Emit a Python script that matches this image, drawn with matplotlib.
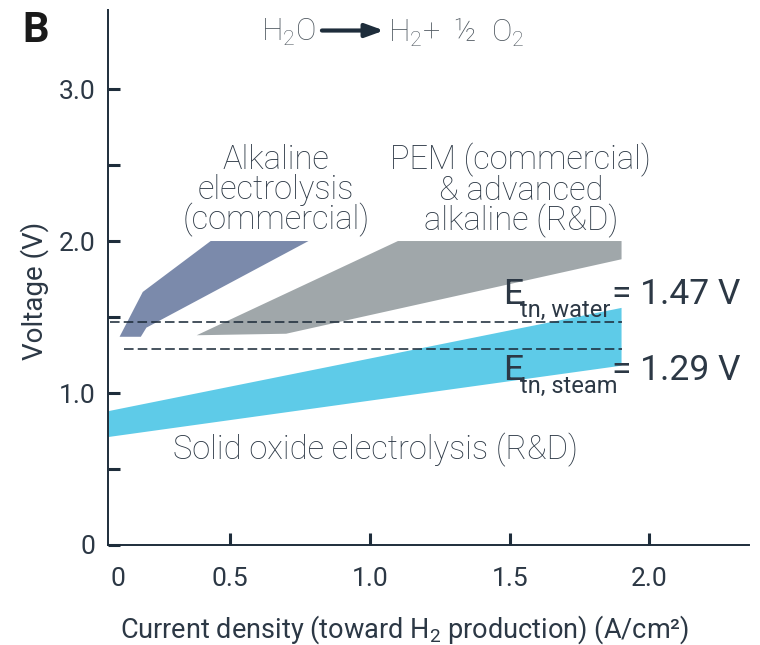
import matplotlib
matplotlib.use("Agg")
import matplotlib.pyplot as plt
from matplotlib.patches import Polygon

plt.rcParams["font.family"] = ["Roboto", "DejaVu Sans"]
plt.rcParams["mathtext.fontset"] = "custom"
plt.rcParams["mathtext.rm"] = "Roboto"
plt.rcParams["mathtext.default"] = "regular"

# Operating windows (current density in A/cm^2, cell voltage in V)
alkaline_j = [0.104, 0.187, 0.43, 0.78, 0.20, 0.18]
alkaline_v = [1.37, 1.665, 2.0, 2.0, 1.43, 1.37]

pem_j = [0.38, 0.70, 1.90, 1.90, 1.10]
pem_v = [1.38, 1.39, 1.88, 2.0, 2.0]

soec_j = [0.062, 0.062, 1.90, 1.90]
soec_v = [0.71, 0.88, 1.56, 1.18]

# Thermoneutral voltages
e_tn_water = 1.47
e_tn_steam = 1.29
water_span = [0.07, 1.90]
steam_span = [0.12, 1.90]

x_ticks = [0.5, 1.0, 1.5, 2.0]
x_tick_labels = ["0.5", "1.0", "1.5", "2.0"]
y_ticks = [0, 0.5, 1.0, 1.5, 2.0, 2.5, 3.0]
y_tick_labels = ["0", "", "1.0", "", "2.0", "", "3.0"]

navy = "#1e2d3b"
text_col = "#2c3845"
light_col = "#4f5860"
c_alk = "#7b8aab"
c_pem = "#a0a7aa"
c_soec = "#5ecbe8"

fig = plt.figure(figsize=(7.6, 6.45), dpi=100)
ax = fig.add_axes([108 / 760, 100 / 645, 641 / 760, 535 / 645])
ax.set_xlim(0.0626, 2.356)
ax.set_ylim(0, 3.52)

for spine in ("top", "right"):
    ax.spines[spine].set_visible(False)
for spine in ("left", "bottom"):
    ax.spines[spine].set_color(navy)
    ax.spines[spine].set_linewidth(1.4)

ax.add_patch(Polygon(list(zip(soec_j, soec_v)), closed=True, fc=c_soec, ec="none", zorder=2))
ax.add_patch(Polygon(list(zip(pem_j, pem_v)), closed=True, fc=c_pem, ec="none", zorder=2))
ax.add_patch(Polygon(list(zip(alkaline_j, alkaline_v)), closed=True, fc=c_alk, ec="none", zorder=2))

ax.plot(water_span, [e_tn_water] * 2, ls=(0, (6, 2.6)), color=navy, lw=1.15, zorder=3)
ax.plot(steam_span, [e_tn_steam] * 2, ls=(0, (6, 2.6)), color=navy, lw=1.15, zorder=3)

ax.set_xticks(x_ticks, labels=x_tick_labels)
ax.set_xticks([0.098], labels=["0"], minor=True)
ax.set_yticks(y_ticks, labels=y_tick_labels)
ax.tick_params(axis="both", which="major", direction="in", length=8.5, width=2.2,
               color=navy, labelsize=19, labelcolor=text_col)
ax.tick_params(axis="x", which="major", pad=16)
ax.tick_params(axis="y", which="major", pad=9)
ax.tick_params(axis="x", which="minor", length=0, labelsize=19, labelcolor=text_col, pad=16)

ax.set_xlabel("Current density (toward H$_2$ production) (A/cm²)", fontsize=19.5,
              color=text_col)
ax.xaxis.set_label_coords(0.463, -0.128)
ax.set_ylabel("Voltage (V)", fontsize=20, color=text_col)
ax.yaxis.set_label_coords(-0.092, 0.475)

# Reaction above the plot
ax.text(0.707, 3.37, "H$_2$O", fontsize=22, color=light_col, fontweight="light",
        ha="center", va="center")
ax.annotate("", xy=(1.05, 3.385), xytext=(0.828, 3.385),
            arrowprops=dict(arrowstyle="-|>,head_length=1.1,head_width=0.4",
                            color=navy, lw=3, shrinkA=0, shrinkB=0))
ax.text(1.064, 3.37, "H$_2$+  ½  O$_2$", fontsize=22, color=light_col, fontweight="light",
        ha="left", va="center")

label_kw = dict(fontsize=23.5, color=text_col, fontweight="light", ha="center",
                va="center", linespacing=0.9)
ax.text(0.664, 2.33, "Alkaline\nelectrolysis\n(commercial)", **label_kw)
ax.text(1.54, 2.33, "PEM (commercial)\n& advanced\nalkaline (R&D)", **label_kw)
ax.text(1.018, 0.625, "Solid oxide electrolysis (R&D)", **label_kw)

big = dict(fontsize=25.5, color=text_col, ha="left", va="center")
small = dict(fontsize=17, color=text_col, ha="left", va="center")
ax.text(1.476, 1.65, "E", **big)
ax.text(1.537, 1.54, "tn, water", **small)
ax.text(1.866, 1.65, "= 1.47 V", **big)
ax.text(1.476, 1.145, "E", **big)
ax.text(1.537, 1.046, "tn, steam", **small)
ax.text(1.866, 1.15, "= 1.29 V", **big)

fig.text(36 / 760, 1 - 31 / 645, "B", fontsize=30, fontweight="bold", color="#1a1a1a",
         ha="center", va="center")

fig.savefig("out.png", dpi=100)
